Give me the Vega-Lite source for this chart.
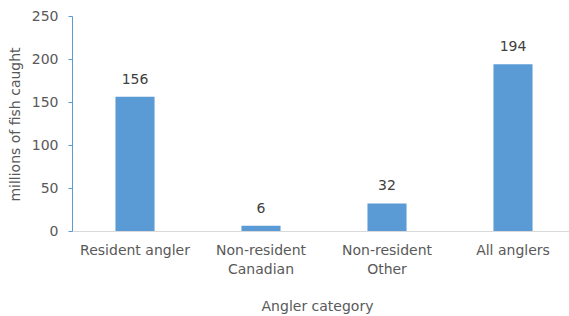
{
  "$schema": "https://vega.github.io/schema/vega-lite/v6.json",
  "width": 504,
  "height": 215,
  "autosize": {"type": "none"},
  "padding": {"left": 72, "top": 16, "right": 0, "bottom": 85},
  "background": "white",
  "data": {"values": [
    {"category": "Resident angler", "value": 156},
    {"category": "Non-resident Canadian", "value": 6},
    {"category": "Non-resident Other", "value": 32},
    {"category": "All anglers", "value": 194}
  ]},
  "config": {
    "view": {"stroke": null},
    "font": "DejaVu Sans",
    "axis": {"grid": false, "labelFont": "DejaVu Sans", "titleFont": "DejaVu Sans", "labelFontSize": 14, "titleFontSize": 14, "labelColor": "#595959", "titleColor": "#595959", "titleFontWeight": "normal"}
  },
  "encoding": {
    "x": {"field": "category", "type": "nominal", "sort": null,
      "scale": {"paddingInner": 0.69, "paddingOuter": 0.345},
      "axis": {"title": "Angler category", "labelAngle": 0, "ticks": false, "domainColor": "#d9d9d9", "domainWidth": 1,
        "labelPadding": 12, "labelBaseline": "top", "labelLineHeight": 19,
        "labelExpr": "datum.label == 'Non-resident Canadian' ? ['Non-resident', 'Canadian'] : datum.label == 'Non-resident Other' ? ['Non-resident', 'Other'] : datum.label",
        "titleX": 245, "titleY": 79, "titleBaseline": "alphabetic", "titleAlign": "center"}},
    "y": {"field": "value", "type": "quantitative",
      "scale": {"domain": [0, 250], "nice": false},
      "axis": {"title": "millions of fish caught", "values": [0, 50, 100, 150, 200, 250], "domainColor": "#5B9BD5", "tickColor": "#5B9BD5", "tickSize": 4, "labelPadding": 10,
        "titleX": -57, "titleY": 108, "titleAngle": -90, "titleAlign": "center", "titleBaseline": "middle"}}
  },
  "layer": [
    {"mark": {"type": "bar", "color": "#5B9BD5"}},
    {"mark": {"type": "text", "baseline": "alphabetic", "dy": -13, "fontSize": 14, "color": "#404040", "font": "DejaVu Sans"},
      "encoding": {"text": {"field": "value", "type": "quantitative"}}}
  ]
}
